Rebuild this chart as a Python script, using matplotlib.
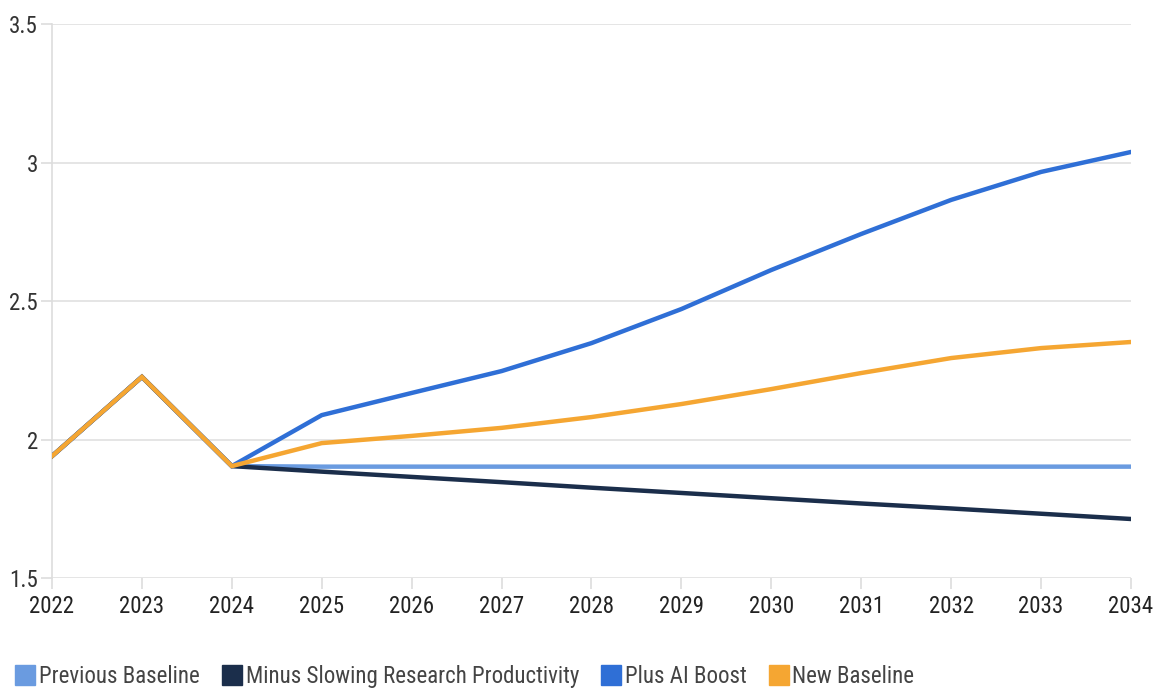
import matplotlib.pyplot as plt
from matplotlib.lines import Line2D

years = [2022, 2023, 2024, 2025, 2026, 2027, 2028, 2029, 2030, 2031, 2032, 2033, 2034]

previous_baseline = [1.94, 2.226, 1.904, 1.902, 1.902, 1.902, 1.902, 1.902, 1.902, 1.902, 1.902, 1.902, 1.902]
minus_slowing = [1.94, 2.226, 1.904, 1.884, 1.865, 1.846, 1.826, 1.807, 1.788, 1.769, 1.751, 1.732, 1.713]
plus_ai = [1.94, 2.226, 1.904, 2.088, 2.168, 2.247, 2.348, 2.471, 2.612, 2.742, 2.865, 2.966, 3.038]
new_baseline = [1.94, 2.226, 1.904, 1.987, 2.013, 2.042, 2.081, 2.128, 2.182, 2.240, 2.294, 2.330, 2.352]

labels = ['Previous Baseline', 'Minus Slowing Research Productivity', 'Plus AI Boost', 'New Baseline']
colors = ['#6a9be0', '#1b2e4b', '#2f6fd6', '#f5a632']
series = [previous_baseline, minus_slowing, plus_ai, new_baseline]

plt.rcParams['font.family'] = ['Roboto Condensed', 'Roboto', 'DejaVu Sans']

fig = plt.figure(figsize=(11.64, 6.92), dpi=100)
ax = fig.add_axes([52 / 1164, 1 - 578 / 692, (1131 - 52) / 1164, (578 - 24) / 692])

for vals, c in zip(series, colors):
    ax.plot(years, vals, color=c, lw=3.2, solid_joinstyle='miter', zorder=3)

ax.set_xlim(2022, 2034)
ax.set_ylim(1.5, 3.5)
ax.set_xticks(years)
ax.set_xticklabels([str(y) for y in years])
ax.set_yticks([1.5, 2, 2.5, 3, 3.5])
ax.set_yticklabels(['1.5', '2', '2.5', '3', '3.5'])
ax.grid(axis='y', color='#e0e0e0', lw=1.2)
ax.set_axisbelow(True)
for s in ['top', 'right', 'bottom']:
    ax.spines[s].set_visible(False)
ax.spines['left'].set_color('#dddddd')
ax.spines['left'].set_linewidth(1.2)
ax.tick_params(axis='x', length=8, color='#dddddd', width=1.2, labelsize=16.5, labelcolor='#222222', pad=4)
ax.tick_params(axis='y', length=8, color='#dddddd', width=1.2, labelsize=16.5, labelcolor='#333333', pad=2)

handles = [Line2D([], [], ls='none', marker='s', markersize=15, markerfacecolor=c,
                  markeredgecolor=c) for c in colors]
fig.legend(handles, labels, loc='lower left', bbox_to_anchor=(0.0, -0.018), ncol=4,
           frameon=False, fontsize=16.5, labelcolor='#444444', handlelength=0.8,
           handletextpad=0.2, columnspacing=1.0, borderaxespad=0.3)

fig.savefig('out.png', dpi=100)
